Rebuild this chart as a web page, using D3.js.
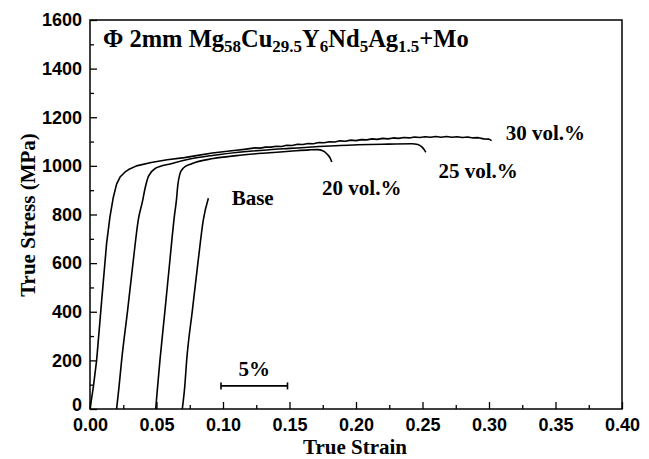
<!DOCTYPE html>
<html><head><meta charset="utf-8">
<script src="https://cdn.jsdelivr.net/npm/d3@7"></script>
<style>body{margin:0;background:#fff}svg{display:block}</style>
</head><body>
<script>
// ---- data ----
const xTicks = [0.00,0.05,0.10,0.15,0.20,0.25,0.30,0.35,0.40];
const yTicks = [0,200,400,600,800,1000,1200,1400,1600];
const seriesNames = ["Base","20 vol.%","25 vol.%","30 vol.%"];
const base = [[0.0694,0],[0.0712,90],[0.0727,201],[0.0770,407],[0.0814,613],[0.0852,778],[0.0890,867]];
const vol20 = [[0.0494,0],[0.0508,90],[0.0526,201],[0.0564,407],[0.0601,613],[0.0634,791],[0.0650,860],[0.0660,920],[0.0675,965],[0.0700,990],[0.0765,1009],[0.0927,1030],[0.110,1042],[0.130,1052],[0.150,1060],[0.165,1066],[0.171,1067],[0.175,1062],[0.178,1050],[0.1805,1033],[0.1818,1016]];
const vol25 = [[0.0200,0],[0.0218,90],[0.0238,201],[0.0283,407],[0.0326,613],[0.0363,778],[0.0395,855],[0.0415,910],[0.0440,958],[0.0490,989],[0.0610,1009],[0.0750,1028],[0.0920,1043],[0.120,1060],[0.150,1072],[0.188,1084],[0.220,1089],[0.242,1091],[0.2465,1088],[0.2495,1078],[0.2515,1065],[0.2525,1056]];
const vol30 = [[0.0000,0],[0.0025,90],[0.0050,201],[0.0088,448],[0.0125,682],[0.0150,790],[0.0175,870],[0.0200,925],[0.0226,954],[0.0260,973],[0.0290,985],[0.0350,1000],[0.0460,1014],[0.0580,1025],[0.0710,1034],[0.0800,1042],[0.0920,1053],[0.1000,1058],[0.1100,1064],[0.1160,1068],
 [0.120,1071],[0.124,1074],[0.128,1073],[0.132,1077],[0.136,1077],[0.140,1081],[0.144,1080],[0.148,1085],[0.152,1084],[0.156,1089],[0.160,1088],[0.164,1092],[0.168,1091],[0.172,1096],[0.176,1095],[0.180,1099],[0.184,1098],[0.188,1103],[0.192,1101],[0.196,1106],[0.200,1104],[0.204,1108],[0.208,1107],[0.212,1111],[0.216,1109],[0.220,1113],[0.224,1111],[0.228,1115],[0.232,1113],[0.236,1117],[0.240,1115],[0.244,1119],[0.248,1117],[0.252,1120],[0.256,1118],[0.260,1121],[0.264,1118],[0.268,1121],[0.272,1118],[0.276,1120],[0.280,1117],[0.284,1119],[0.288,1115],[0.292,1116],[0.296,1111],[0.300,1110],[0.302,1104]];
const labels = [
  {text:"Base", x:0.1065, y:840},
  {text:"20 vol.%", x:0.1745, y:882},
  {text:"25 vol.%", x:0.2620, y:952},
  {text:"30 vol.%", x:0.3125, y:1107}
];
const scaleBar = [0.0985, 0.1485];
const scaleBarY = 95;
const scaleBarLabel = "5%";

// ---- layout ----
const W = 649, H = 459;
const m = {left:90, right:27, top:20, bottom:50};
const svg = d3.select("body").append("svg").attr("width",W).attr("height",H);
const x = d3.scaleLinear().domain([0,0.40]).range([m.left, W-m.right]);
const y = d3.scaleLinear().domain([0,1600]).range([H-m.bottom, m.top]);

const serif = "'Liberation Serif','Times New Roman',serif";
const sans = "'Liberation Sans',Arial,sans-serif";

// frame
svg.append("rect").attr("x",x(0)).attr("y",y(1600)).attr("width",x(0.4)-x(0)).attr("height",y(0)-y(1600))
  .attr("fill","none").attr("stroke","#000").attr("stroke-width",1.5);

// x axis
const xAxis = d3.axisBottom(x).tickValues(xTicks).tickFormat(d3.format(".2f")).tickSize(-7).tickPadding(9);
svg.append("g").attr("transform",`translate(0,${y(0)})`).call(xAxis);
const xMinor = d3.axisBottom(x).tickValues(d3.range(0.025,0.40,0.05)).tickSize(-4).tickFormat("");
svg.append("g").attr("transform",`translate(0,${y(0)})`).call(xMinor);
// y axis
const yAxis = d3.axisLeft(y).tickValues(yTicks).tickFormat(d3.format("d")).tickSize(-7).tickPadding(8);
const gy = svg.append("g").attr("transform",`translate(${x(0)},0)`).call(yAxis);
const yMinor = d3.axisLeft(y).tickValues(d3.range(100,1600,200)).tickSize(-4).tickFormat("");
svg.append("g").attr("transform",`translate(${x(0)},0)`).call(yMinor);

svg.selectAll(".domain").remove();
svg.selectAll(".tick line").attr("stroke","#000").attr("stroke-width",1.3);
svg.selectAll(".tick text").attr("font-family",sans).attr("font-weight","bold").attr("font-size",18).attr("fill","#000");
// nudge the "0" label slightly up so it clears the x labels
gy.selectAll(".tick text").filter(d=>d===0).attr("y",-4);

// axis titles
svg.append("text").attr("x",355).attr("y",454).attr("text-anchor","middle").attr("fill","#000")
  .attr("font-family",serif).attr("font-weight","bold").attr("font-size",21).text("True Strain");
svg.append("text").attr("transform","translate(35,215) rotate(-90)").attr("text-anchor","middle").attr("fill","#000")
  .attr("font-family",serif).attr("font-weight","bold").attr("font-size",21).text("True Stress (MPa)");

// curves
const smooth = d3.line().x(d=>x(d[0])).y(d=>y(d[1])).curve(d3.curveMonotoneX);
const rough = d3.line().x(d=>x(d[0])).y(d=>y(d[1])).curve(d3.curveLinear);
[[base,smooth],[vol20,smooth],[vol25,smooth],[vol30,rough]].forEach(([s,gen])=>{
  svg.append("path").datum(s).attr("d",gen).attr("fill","none").attr("stroke","#000").attr("stroke-width",1.6).attr("stroke-linejoin","round");
});

// labels
labels.forEach(l=>{
  svg.append("text").attr("x",x(l.x)).attr("y",y(l.y)).attr("font-family",serif).attr("font-weight","bold").attr("fill","#000")
    .attr("font-size",21).text(l.text);
});

// scale bar
const sb = svg.append("g").attr("stroke","#000").attr("stroke-width",1.6);
sb.append("line").attr("x1",x(scaleBar[0])).attr("x2",x(scaleBar[1])).attr("y1",y(scaleBarY)).attr("y2",y(scaleBarY));
scaleBar.forEach(v=>sb.append("line").attr("x1",x(v)).attr("x2",x(v)).attr("y1",y(scaleBarY)-3.5).attr("y2",y(scaleBarY)+3.5));
svg.append("text").attr("x",(x(scaleBar[0])+x(scaleBar[1]))/2).attr("y",y(scaleBarY)-10).attr("text-anchor","middle").attr("fill","#000")
  .attr("font-family",serif).attr("font-weight","bold").attr("font-size",21).text(scaleBarLabel);

// title
const t = svg.append("text").attr("x",103).attr("y",47).attr("font-family",serif).attr("font-weight","bold").attr("font-size",24.5).attr("fill","#000");
const parts = [["Φ 2mm Mg",0],["58",1],["Cu",0],["29.5",1],["Y",0],["6",1],["Nd",0],["5",1],["Ag",0],["1.5",1],["+Mo",0]];
parts.forEach((p,i)=>{
  const prev = i>0 ? parts[i-1][1] : 0;
  const ts = t.append("tspan").text(p[0]);
  if(p[1]) ts.attr("font-size",17);
  ts.attr("dy", p[1] && !prev ? 5 : (!p[1] && prev ? -5 : 0));
});
</script>
</body></html>
